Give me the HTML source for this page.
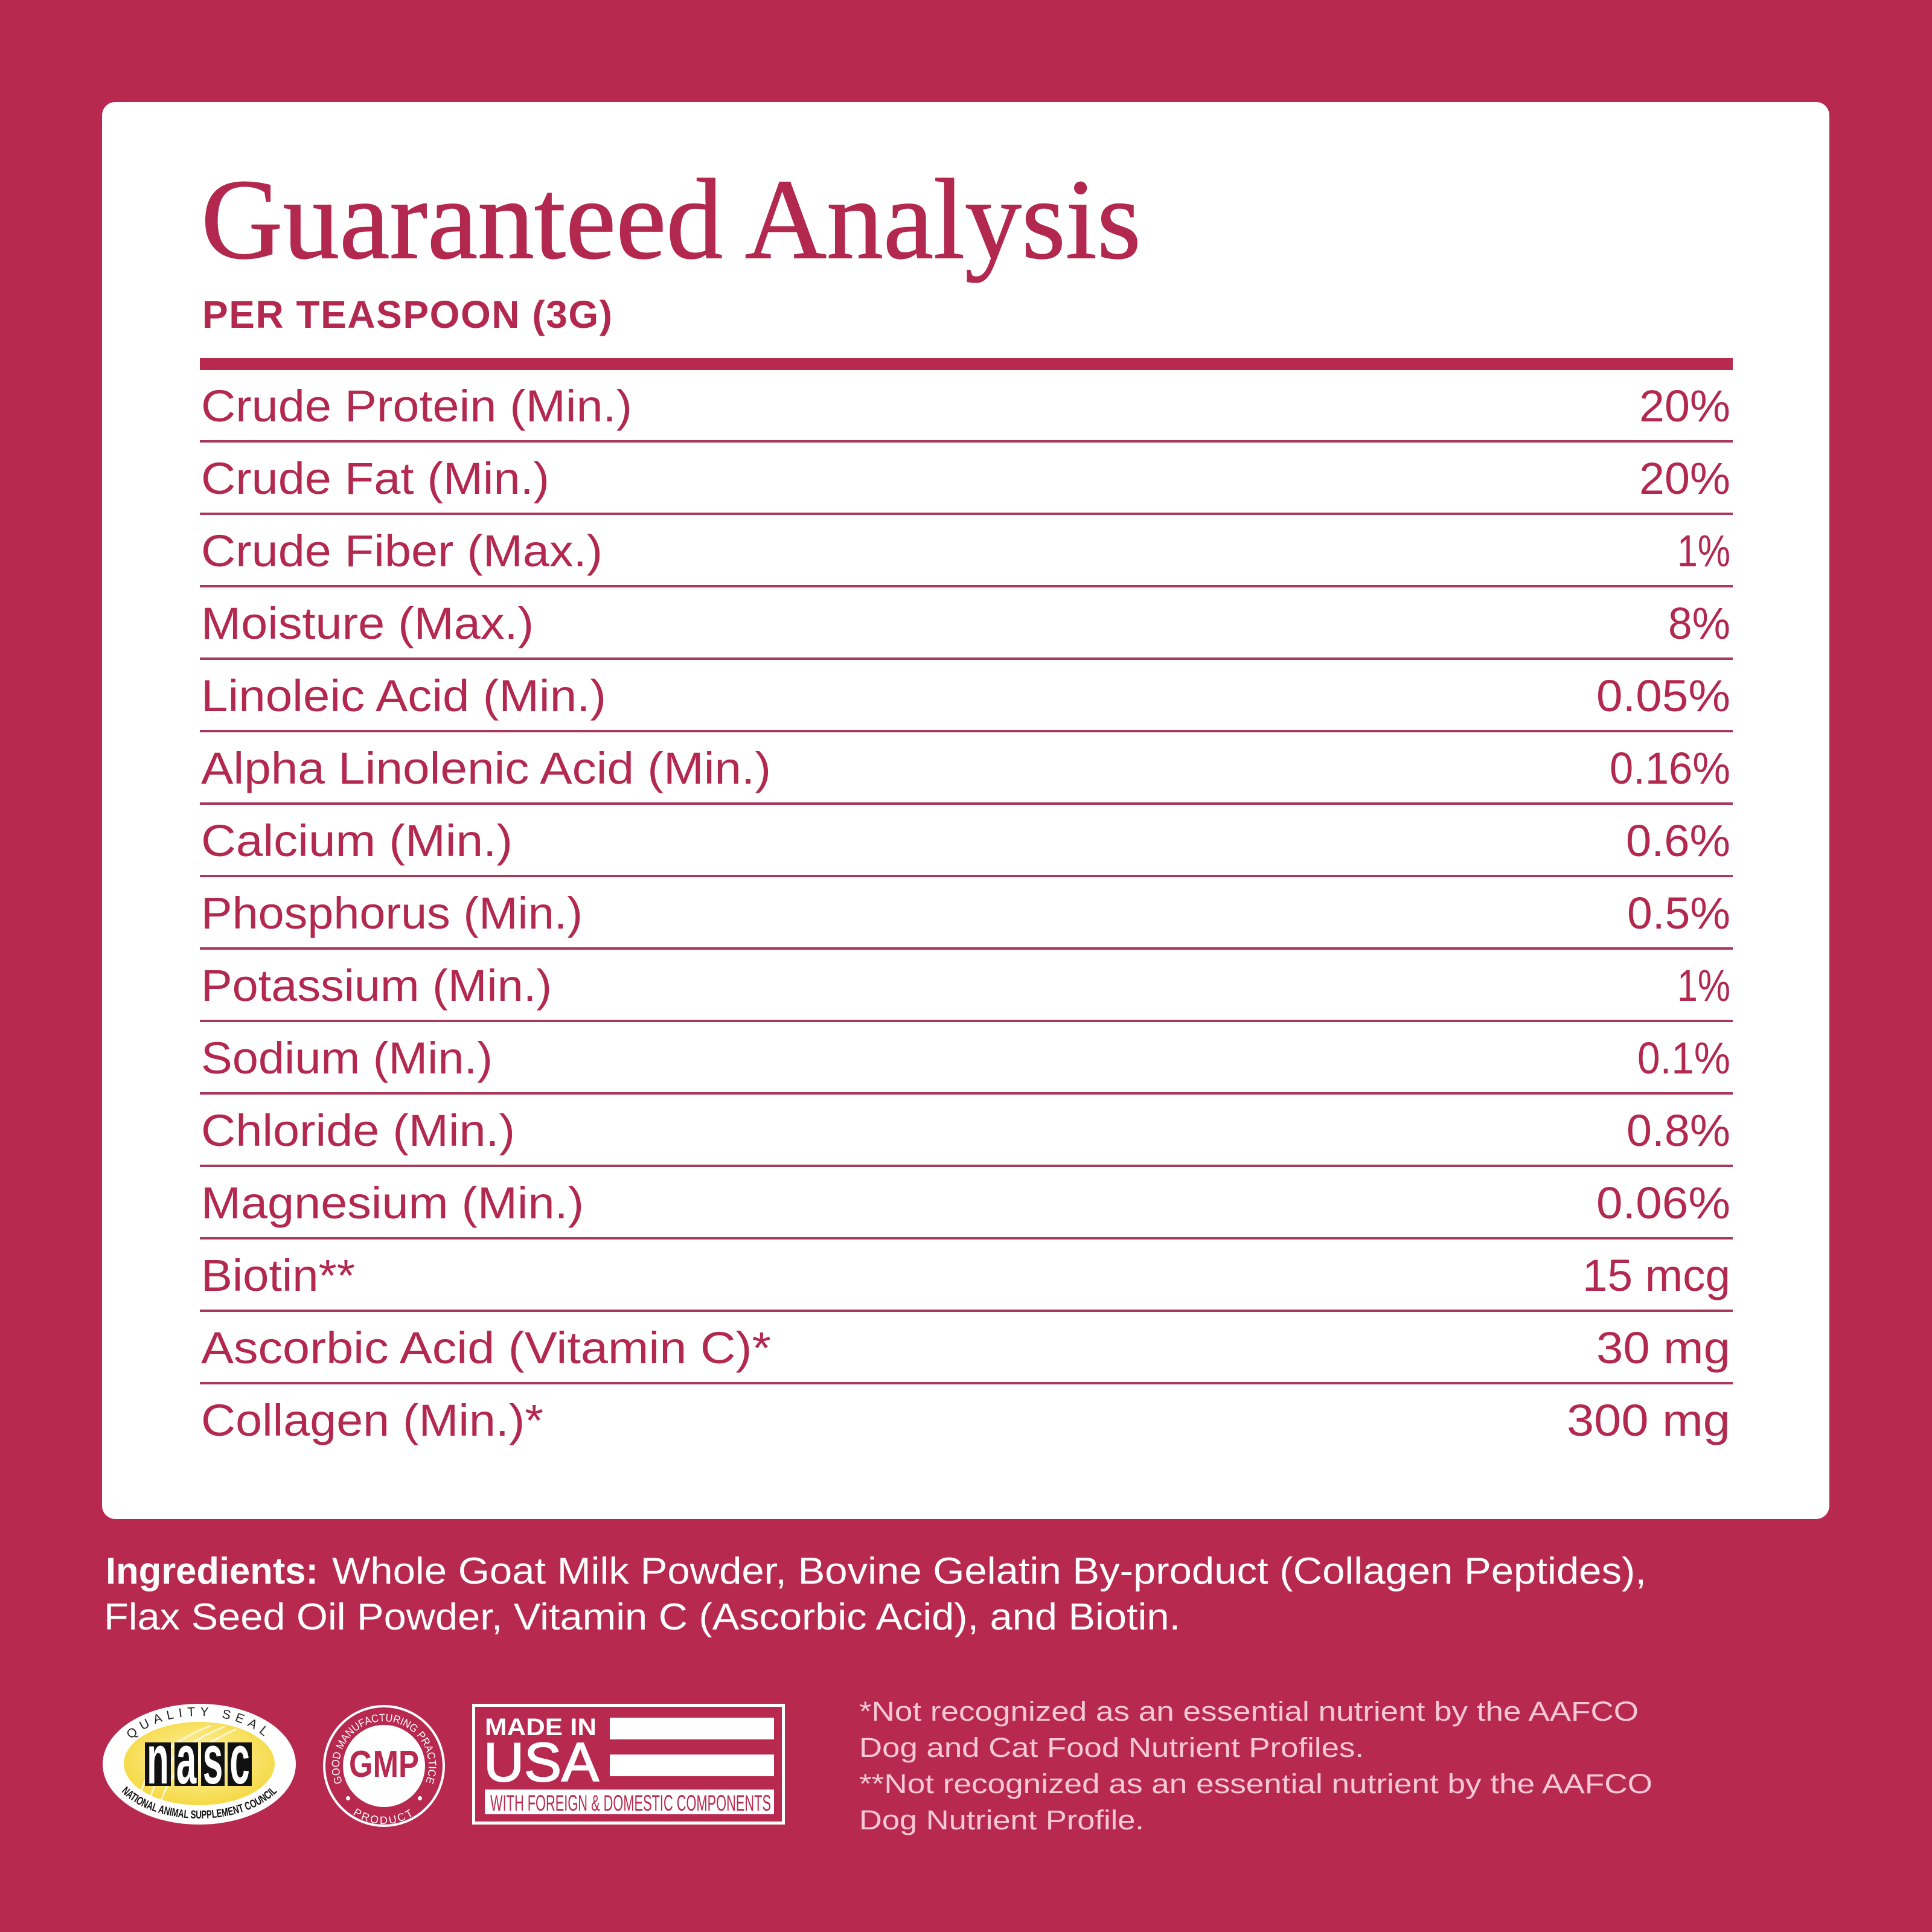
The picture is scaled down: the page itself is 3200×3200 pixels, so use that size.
<!DOCTYPE html>
<html>
<head>
<meta charset="utf-8">
<style>
html,body{margin:0;padding:0;background:#b7294f;}
svg{display:block;}
</style>
</head>
<body>
<svg width="3200" height="3200" viewBox="0 0 3200 3200" xmlns="http://www.w3.org/2000/svg">
  <defs>
    <radialGradient id="yg" cx="50%" cy="45%" r="60%">
      <stop offset="0%" stop-color="#fffbe2"/>
      <stop offset="45%" stop-color="#fbe77a"/>
      <stop offset="100%" stop-color="#f4d63a"/>
    </radialGradient>
    <path id="qsArc" d="M199,2922 A131,80 0 0,1 461,2922"/>
    <path id="nascArc" d="M180,2922 A150,90 0 0,0 480,2922"/>
    <path id="gmpTop" d="M568.9,2956.3 A74,74 0 1,1 703.1,2956.3"/>
    <path id="gmpBot" d="M570,2992.4 A90,90 0 0,0 702,2992.4"/>
  </defs>

  <rect x="0" y="0" width="3200" height="3200" fill="#b7294f"/>
  <rect x="169" y="169" width="2861" height="2347" rx="22" ry="22" fill="#ffffff"/>

  <!-- Title -->
  <text x="333" y="427" font-family="'Liberation Serif', serif" font-size="190" fill="#b3284f" stroke="#b3284f" stroke-width="1.5" textLength="1557" lengthAdjust="spacingAndGlyphs">Guaranteed Analysis</text>
  <text x="335" y="543" font-family="'Liberation Sans', sans-serif" font-weight="bold" font-size="64" fill="#b3284f" textLength="679" lengthAdjust="spacing">PER TEASPOON (3G)</text>

  <rect x="331" y="593" width="2539" height="20" fill="#b7294f"/>

  <g font-family="'Liberation Sans', sans-serif" font-size="74" fill="#b3284f">
    <text x="333" y="698" textLength="714" lengthAdjust="spacingAndGlyphs">Crude Protein (Min.)</text>
    <text x="2715" y="698" textLength="151" lengthAdjust="spacingAndGlyphs">20%</text>

    <text x="333" y="818" textLength="577" lengthAdjust="spacingAndGlyphs">Crude Fat (Min.)</text>
    <text x="2715" y="818" textLength="151" lengthAdjust="spacingAndGlyphs">20%</text>

    <text x="333" y="938" textLength="665" lengthAdjust="spacingAndGlyphs">Crude Fiber (Max.)</text>
    <text x="2778" y="938" textLength="88" lengthAdjust="spacingAndGlyphs">1%</text>

    <text x="333" y="1058" textLength="551" lengthAdjust="spacingAndGlyphs">Moisture (Max.)</text>
    <text x="2763" y="1058" textLength="103" lengthAdjust="spacingAndGlyphs">8%</text>

    <text x="333" y="1178" textLength="671" lengthAdjust="spacingAndGlyphs">Linoleic Acid (Min.)</text>
    <text x="2644" y="1178" textLength="222" lengthAdjust="spacingAndGlyphs">0.05%</text>

    <text x="333" y="1298" textLength="944" lengthAdjust="spacingAndGlyphs">Alpha Linolenic Acid (Min.)</text>
    <text x="2666" y="1298" textLength="200" lengthAdjust="spacingAndGlyphs">0.16%</text>

    <text x="333" y="1418" textLength="516" lengthAdjust="spacingAndGlyphs">Calcium (Min.)</text>
    <text x="2693" y="1418" textLength="173" lengthAdjust="spacingAndGlyphs">0.6%</text>

    <text x="333" y="1538" textLength="632" lengthAdjust="spacingAndGlyphs">Phosphorus (Min.)</text>
    <text x="2695" y="1538" textLength="171" lengthAdjust="spacingAndGlyphs">0.5%</text>

    <text x="333" y="1658" textLength="581" lengthAdjust="spacingAndGlyphs">Potassium (Min.)</text>
    <text x="2778" y="1658" textLength="88" lengthAdjust="spacingAndGlyphs">1%</text>

    <text x="333" y="1778" textLength="483" lengthAdjust="spacingAndGlyphs">Sodium (Min.)</text>
    <text x="2712" y="1778" textLength="154" lengthAdjust="spacingAndGlyphs">0.1%</text>

    <text x="333" y="1898" textLength="520" lengthAdjust="spacingAndGlyphs">Chloride (Min.)</text>
    <text x="2694" y="1898" textLength="172" lengthAdjust="spacingAndGlyphs">0.8%</text>

    <text x="333" y="2018" textLength="634" lengthAdjust="spacingAndGlyphs">Magnesium (Min.)</text>
    <text x="2644" y="2018" textLength="222" lengthAdjust="spacingAndGlyphs">0.06%</text>

    <text x="333" y="2138" textLength="255" lengthAdjust="spacingAndGlyphs">Biotin**</text>
    <text x="2621" y="2138" textLength="245" lengthAdjust="spacingAndGlyphs">15 mcg</text>

    <text x="333" y="2258" textLength="944" lengthAdjust="spacingAndGlyphs">Ascorbic Acid (Vitamin C)*</text>
    <text x="2644" y="2258" textLength="222" lengthAdjust="spacingAndGlyphs">30 mg</text>

    <text x="333" y="2378" textLength="567" lengthAdjust="spacingAndGlyphs">Collagen (Min.)*</text>
    <text x="2595" y="2378" textLength="271" lengthAdjust="spacingAndGlyphs">300 mg</text>
  </g>

  <g fill="#a8395b">
    <rect x="331" y="729" width="2539" height="4"/>
    <rect x="331" y="849" width="2539" height="4"/>
    <rect x="331" y="969" width="2539" height="4"/>
    <rect x="331" y="1089" width="2539" height="4"/>
    <rect x="331" y="1209" width="2539" height="4"/>
    <rect x="331" y="1329" width="2539" height="4"/>
    <rect x="331" y="1449" width="2539" height="4"/>
    <rect x="331" y="1569" width="2539" height="4"/>
    <rect x="331" y="1689" width="2539" height="4"/>
    <rect x="331" y="1809" width="2539" height="4"/>
    <rect x="331" y="1929" width="2539" height="4"/>
    <rect x="331" y="2049" width="2539" height="4"/>
    <rect x="331" y="2169" width="2539" height="4"/>
    <rect x="331" y="2289" width="2539" height="4"/>
  </g>

  <!-- Ingredients -->
  <g font-family="'Liberation Sans', sans-serif" font-size="62" fill="#ffffff">
    <text x="175" y="2623" font-weight="bold" textLength="352" lengthAdjust="spacingAndGlyphs">Ingredients:</text>
    <text x="550" y="2623" textLength="2177" lengthAdjust="spacingAndGlyphs">Whole Goat Milk Powder, Bovine Gelatin By-product (Collagen Peptides),</text>
    <text x="172" y="2699" textLength="1783" lengthAdjust="spacingAndGlyphs">Flax Seed Oil Powder, Vitamin C (Ascorbic Acid), and Biotin.</text>
  </g>

  <!-- Footnotes -->
  <g font-family="'Liberation Sans', sans-serif" font-size="45" fill="#f7c8d6">
    <text x="1423" y="2850" textLength="1291" lengthAdjust="spacingAndGlyphs">*Not recognized as an essential nutrient by the AAFCO</text>
    <text x="1423" y="2910" textLength="836" lengthAdjust="spacingAndGlyphs">Dog and Cat Food Nutrient Profiles.</text>
    <text x="1423" y="2970" textLength="1314" lengthAdjust="spacingAndGlyphs">**Not recognized as an essential nutrient by the AAFCO</text>
    <text x="1423" y="3030" textLength="472" lengthAdjust="spacingAndGlyphs">Dog Nutrient Profile.</text>
  </g>

  <!-- NASC seal -->
  <ellipse cx="330" cy="2922" rx="160" ry="100" fill="#ffffff"/>
  <ellipse cx="330" cy="2921" rx="125" ry="69" fill="url(#yg)"/>
  <g fill="none" stroke="#ffffff" stroke-opacity="0.7" stroke-width="3">
    <path d="M232,2975 Q250,2895 350,2858"/>
    <path d="M248,2982 Q268,2900 372,2860"/>
    <path d="M266,2986 Q288,2908 392,2864"/>
  </g>
  <text font-family="'Liberation Sans', sans-serif" font-size="21" fill="#222" letter-spacing="8">
    <textPath href="#qsArc" startOffset="50%" text-anchor="middle">QUALITY SEAL</textPath>
  </text>
  <g fill="#111">
    <rect x="240" y="2886" width="43" height="72"/>
    <rect x="289" y="2886" width="39" height="72"/>
    <rect x="333" y="2886" width="39" height="72"/>
    <rect x="377" y="2886" width="40" height="72"/>
  </g>
  <g font-family="'Liberation Sans', sans-serif" font-weight="bold" font-size="75" fill="#ffffff" text-anchor="middle">
    <text transform="translate(261.5,2954) scale(0.8,1.55)">n</text>
    <text transform="translate(308.5,2954) scale(0.8,1.55)">a</text>
    <text transform="translate(352.5,2954) scale(0.8,1.55)">s</text>
    <text transform="translate(397,2954) scale(0.8,1.55)">c</text>
  </g>
  <text font-family="'Liberation Sans Narrow', 'Liberation Sans', sans-serif" font-weight="bold" font-size="19" fill="#111">
    <textPath href="#nascArc" startOffset="50%" text-anchor="middle" textLength="280" lengthAdjust="spacingAndGlyphs">NATIONAL ANIMAL SUPPLEMENT COUNCIL</textPath>
  </text>

  <!-- GMP seal -->
  <circle cx="636" cy="2925" r="99" fill="none" stroke="#ffffff" stroke-width="4"/>
  <circle cx="636" cy="2925" r="68" fill="#ffffff"/>
  <text x="578" y="2943" font-family="'Liberation Sans', sans-serif" font-weight="bold" font-size="62" fill="#b7294f" textLength="116" lengthAdjust="spacingAndGlyphs">GMP</text>
  <text font-family="'Liberation Sans', sans-serif" font-size="18" fill="#ffffff">
    <textPath href="#gmpTop" startOffset="4" textLength="288" lengthAdjust="spacingAndGlyphs">GOOD MANUFACTURING PRACTICE</textPath>
  </text>
  <text font-family="'Liberation Sans', sans-serif" font-size="18" fill="#ffffff" letter-spacing="3">
    <textPath href="#gmpBot" startOffset="50%" text-anchor="middle">PRODUCT</textPath>
  </text>
  <circle cx="576.5" cy="2978.5" r="3.5" fill="#ffffff"/>
  <circle cx="695.5" cy="2978.5" r="3.5" fill="#ffffff"/>

  <!-- Made in USA -->
  <rect x="784.5" y="2824.5" width="513" height="195" fill="none" stroke="#ffffff" stroke-width="5"/>
  <text x="803" y="2874" font-family="'Liberation Sans', sans-serif" font-weight="bold" font-size="40" fill="#ffffff" textLength="185" lengthAdjust="spacingAndGlyphs">MADE IN</text>
  <text x="801" y="2950" font-family="'Liberation Sans', sans-serif" font-size="91" fill="#ffffff" stroke="#ffffff" stroke-width="2" textLength="191" lengthAdjust="spacingAndGlyphs">USA</text>
  <rect x="1010" y="2845" width="272" height="36" fill="#ffffff"/>
  <rect x="1010" y="2906" width="272" height="36" fill="#ffffff"/>
  <rect x="803" y="2964" width="479" height="41" fill="#ffffff"/>
  <text x="812" y="2999" font-family="'Liberation Sans Narrow', 'Liberation Sans', sans-serif" font-size="37" fill="#b7294f" textLength="465" lengthAdjust="spacingAndGlyphs">WITH FOREIGN &amp; DOMESTIC COMPONENTS</text>
</svg>
</body>
</html>
